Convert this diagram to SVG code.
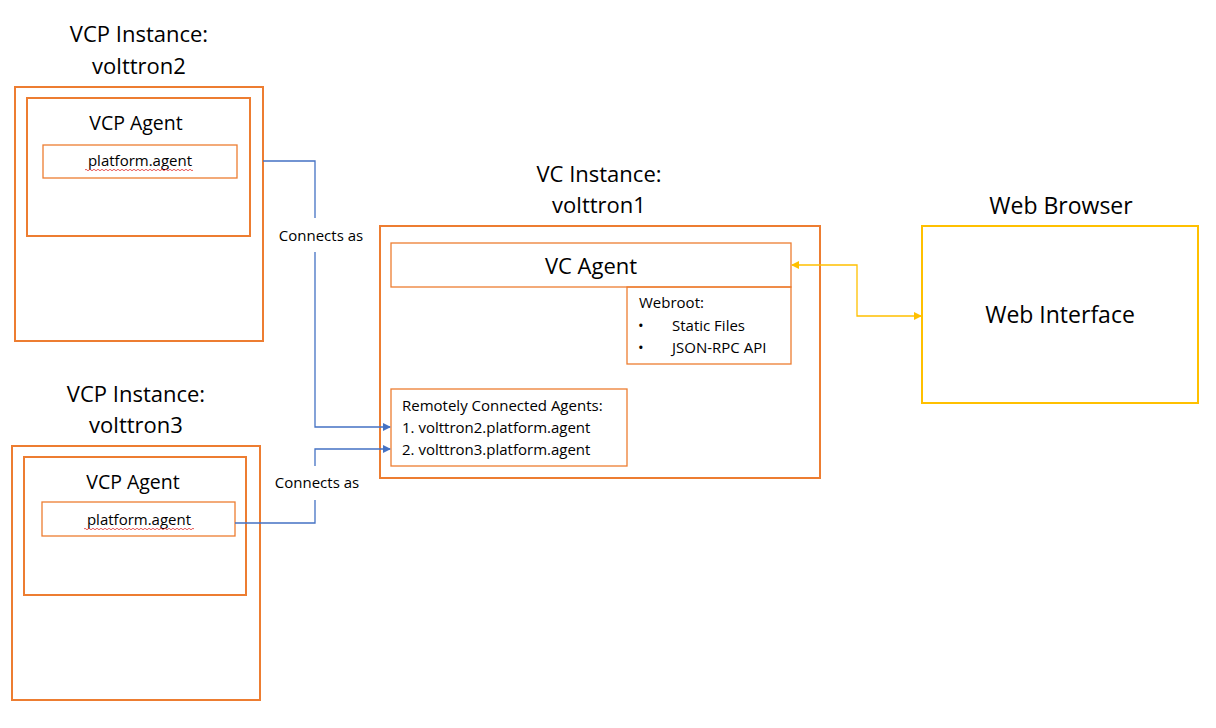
<svg xmlns="http://www.w3.org/2000/svg" width="1216" height="728" viewBox="0 0 1216 728">
<defs>
<style>
text{font-family:"Open Sans","Liberation Sans",Arial,sans-serif;fill:#000}
.t{font-size:22px;text-anchor:middle}
.w{font-size:23px;text-anchor:middle}
.a{font-size:19.5px;text-anchor:middle}
.s{font-size:15px}
.sc{font-size:15px;text-anchor:middle}
.ob{fill:none;stroke:#ED7D31;stroke-width:2}
.ib{fill:none;stroke:#ED7D31;stroke-width:1.3}
.yb{fill:none;stroke:#FFC000;stroke-width:2}
.bl{fill:none;stroke:#4472C4;stroke-width:1.3}
.yl{fill:none;stroke:#FFC000;stroke-width:1.3}
.sq{fill:none;stroke:#E03030;stroke-width:0.8}
</style>
<marker id="ab" markerWidth="8" markerHeight="8" refX="7" refY="4" orient="auto" markerUnits="userSpaceOnUse"><path d="M0,0 L8,4 L0,8 Z" fill="#4472C4"/></marker>
<marker id="ay" markerWidth="8" markerHeight="8" refX="7" refY="4" orient="auto-start-reverse" markerUnits="userSpaceOnUse"><path d="M0,0 L8,4 L0,8 Z" fill="#FFC000"/></marker>
</defs>
<rect width="1216" height="728" fill="#fff"/>

<g id="vcp2">
<text class="t" x="139" y="42">VCP Instance:</text>
<text class="t" x="139" y="74">volttron2</text>
<rect class="ob" x="15" y="87" width="248" height="254"/>
<g id="vcp2-agent">
<rect class="ob" x="27" y="98" width="223" height="138"/>
<text class="a" x="136" y="130">VCP Agent</text>
<rect class="ib" x="43" y="145" width="194" height="33"/>
<text class="sc" x="140" y="166">platform.agent</text>
<path class="sq" d="M85,170 q1,-1.5 2,0 t2,0 t2,0 t2,0 t2,0 t2,0 t2,0 t2,0 t2,0 t2,0 t2,0 t2,0 t2,0 t2,0 t2,0 t2,0 t2,0 t2,0 t2,0 t2,0 t2,0 t2,0 t2,0 t2,0 t2,0 t2,0 t2,0 t2,0 t2,0 t2,0 t2,0 t2,0 t2,0 t2,0 t2,0 t2,0 t2,0 t2,0 t2,0 t2,0 t2,0 t2,0 t2,0 t2,0 t2,0 t2,0 t2,0 t2,0 t2,0 t2,0 t2,0 t2,0 t2,0 t2,0"/>
</g>
</g>

<g id="vcp3">
<text class="t" x="136" y="402">VCP Instance:</text>
<text class="t" x="136" y="433">volttron3</text>
<rect class="ob" x="12" y="446" width="248" height="254"/>
<g id="vcp3-agent">
<rect class="ob" x="24" y="457" width="222" height="138"/>
<text class="a" x="133" y="489">VCP Agent</text>
<rect class="ib" x="42" y="502" width="193" height="34"/>
<text class="sc" x="139" y="525">platform.agent</text>
<path class="sq" d="M84,529 q1,-1.5 2,0 t2,0 t2,0 t2,0 t2,0 t2,0 t2,0 t2,0 t2,0 t2,0 t2,0 t2,0 t2,0 t2,0 t2,0 t2,0 t2,0 t2,0 t2,0 t2,0 t2,0 t2,0 t2,0 t2,0 t2,0 t2,0 t2,0 t2,0 t2,0 t2,0 t2,0 t2,0 t2,0 t2,0 t2,0 t2,0 t2,0 t2,0 t2,0 t2,0 t2,0 t2,0 t2,0 t2,0 t2,0 t2,0 t2,0 t2,0 t2,0 t2,0 t2,0 t2,0 t2,0 t2,0 t2,0"/>
</g>
</g>

<g id="vc">
<text class="t" x="599" y="182">VC Instance:</text>
<text class="t" x="599" y="213">volttron1</text>
<rect class="ob" x="380" y="226" width="440" height="252"/>
<g id="vc-agent">
<rect class="ib" x="391" y="243" width="400" height="44"/>
<text class="t" x="591" y="274">VC Agent</text>
</g>
<g id="webroot">
<rect class="ib" x="627" y="287" width="164" height="77"/>
<text class="s" x="639" y="308">Webroot:</text>
<text class="s" x="638" y="331">•</text>
<text class="s" x="672" y="331">Static Files</text>
<text class="s" x="638" y="353">•</text>
<text class="s" x="672" y="353">JSON-RPC API</text>
</g>
<g id="remote">
<rect class="ib" x="391" y="389" width="236" height="77"/>
<text class="s" x="402" y="411">Remotely Connected Agents:</text>
<text class="s" x="402" y="433">1. volttron2.platform.agent</text>
<text class="s" x="402" y="455">2. volttron3.platform.agent</text>
</g>
</g>

<g id="browser">
<text class="w" x="1061" y="214">Web Browser</text>
<rect class="yb" x="922" y="226" width="276" height="177"/>
<text class="w" x="1060" y="323">Web Interface</text>
</g>

<g id="connectors">
<path class="bl" d="M263,161 H315 V218"/>
<path class="bl" d="M315,252 V427 H390" marker-end="url(#ab)"/>
<path class="bl" d="M235,523 H315 V500"/>
<path class="bl" d="M315,466 V449 H390" marker-end="url(#ab)"/>
<path class="yl" d="M792,265 H857 V316 H921" marker-start="url(#ay)" marker-end="url(#ay)"/>
<text class="sc" x="321" y="241">Connects as</text>
<text class="sc" x="317" y="488">Connects as</text>
</g>
</svg>
